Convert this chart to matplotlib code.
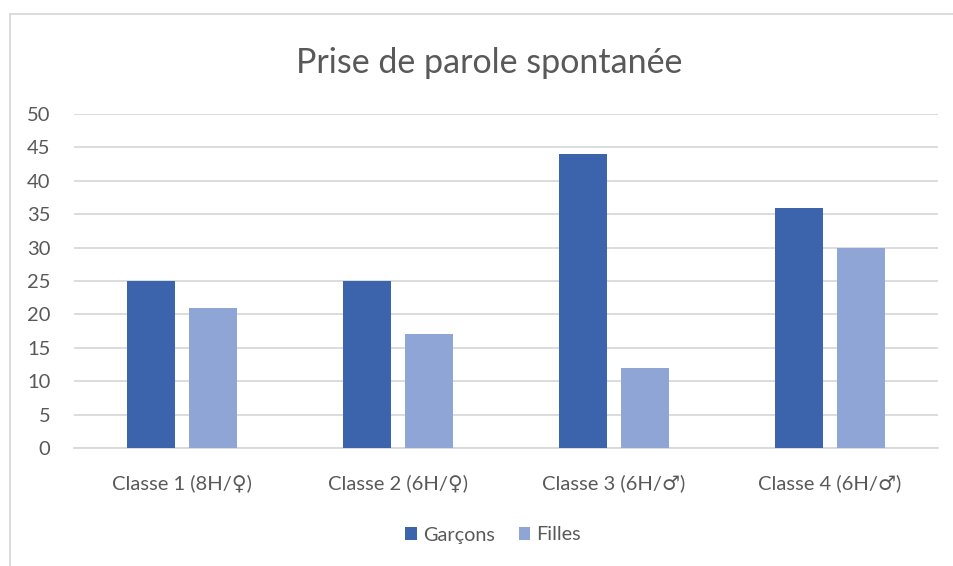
import numpy as np
import matplotlib
matplotlib.use("Agg")
import matplotlib.pyplot as plt
from matplotlib.lines import Line2D

plt.rcParams['font.family'] = ['Lato', 'DejaVu Sans']

# data
categories = ["Classe 1 (8H/♀)", "Classe 2 (6H/♀)", "Classe 3 (6H/♂)", "Classe 4 (6H/♂)"]
garcons = [25, 25, 44, 36]
filles = [21, 17, 12, 30]
series_names = ["Garçons", "Filles"]

txt = "#595959"
grid = "#d9d9d9"
c_g = "#3c64ad"
c_f = "#8fa5d6"

fig = plt.figure(figsize=(9.54, 5.66), dpi=100)
ax = fig.add_axes([74/954, 1-448/566, 864/954, 334/566])

x = np.arange(len(categories))
w = 48/216
gap = 14/216
ax.bar(x - (w+gap)/2, garcons, w, color=c_g, label=series_names[0], zorder=3)
ax.bar(x + (w+gap)/2, filles, w, color=c_f, label=series_names[1], zorder=3)

ax.set_xlim(-0.5, len(categories)-0.5)
ax.set_ylim(0, 50)
ax.set_yticks(np.arange(0, 51, 5))
ax.yaxis.grid(True, color=grid, linewidth=1.3, zorder=0)
ax.set_xticks(x)
ax.set_xticklabels(categories)
ax.tick_params(axis='both', length=0, colors=txt, labelsize=14.5)
ax.tick_params(axis='x', pad=19)
ax.tick_params(axis='y', pad=17)
for s in ['top', 'right', 'left']:
    ax.spines[s].set_visible(False)
ax.spines['bottom'].set_color(grid)
ax.spines['bottom'].set_linewidth(1.3)

fig.text(489/954, 1-63/566, "Prise de parole spontanée", ha='center', va='center',
         fontsize=24.5, color=txt)

leg = fig.legend(loc='center', bbox_to_anchor=(493/954, 1-535/566), ncol=2, frameon=False,
                 fontsize=14.3, handlelength=0.6, handleheight=0.6, handletextpad=0.3,
                 columnspacing=1.2, labelcolor=txt)

# chart border (top and left visible)
fig.add_artist(Line2D([10/954, 1], [1-14/566, 1-14/566], color=grid, linewidth=1.3))
fig.add_artist(Line2D([10/954, 10/954], [0, 1-14/566], color=grid, linewidth=1.3))

fig.savefig("out.png", dpi=100)
